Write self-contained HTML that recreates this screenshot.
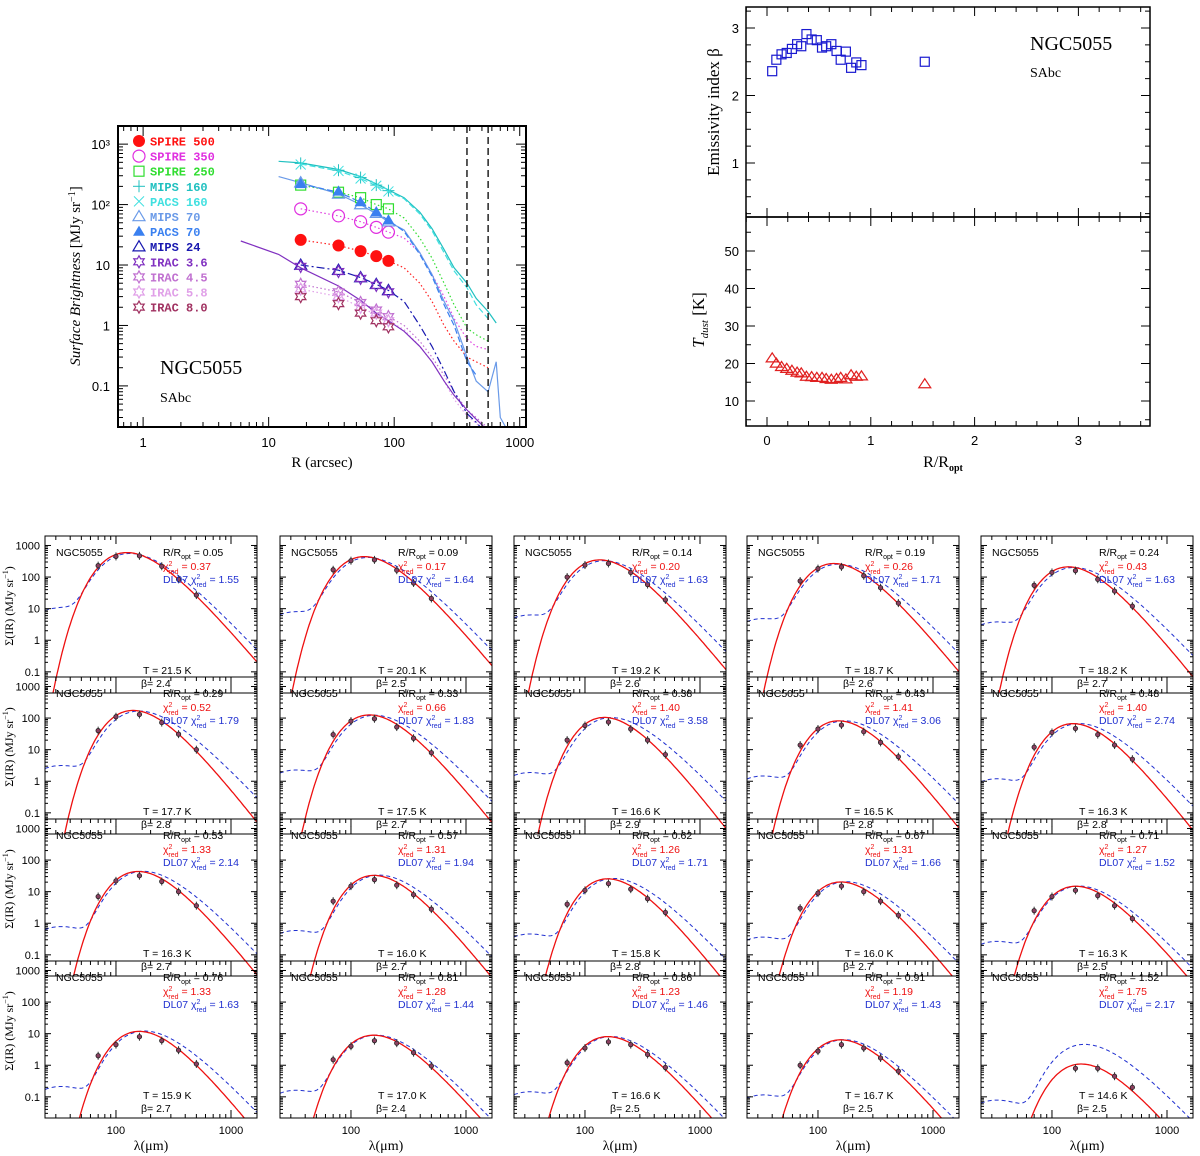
<!DOCTYPE html>
<html><head><meta charset="utf-8"><style>
html,body{margin:0;padding:0;background:#fff;}
svg{display:block;font-family:"Liberation Sans",sans-serif;}
</style></head><body>
<svg id="fig" width="1200" height="1156" viewBox="0 0 1200 1156" xmlns="http://www.w3.org/2000/svg"></svg>
<script>
// ===== Profile panel data =====
const profR = [18, 36, 54, 72, 90];
const spire500 = [26, 21, 17, 14, 11.7];
const spire350 = [85, 65, 52, 42, 35];
const spire250 = [210, 160, 130, 100, 85];
const mips160 = [480, 370, 280, 210, 170];
const pacs160 = [460, 360, 270, 205, 165];
const mips70 = [230, 150, 100, 72, 52];
const pacs70 = [220, 165, 110, 75, 55];
const mips24 = [10, 8.2, 6.2, 4.8, 3.8];
const irac36 = [9.5, 7.8, 6.0, 4.6, 3.6];
const irac45 = [4.8, 3.6, 2.4, 1.8, 1.4];
const irac58 = [4.0, 3.0, 2.0, 1.6, 1.2];
const irac80 = [3.0, 2.3, 1.6, 1.2, 0.95];
const lineR = [6, 12, 18, 36, 54, 72, 90, 120, 160, 200, 250, 300, 380, 450, 560, 650, 700, 780];
const lineMips160 = [null, 520, 490, 380, 290, 220, 175, 130, 75, 40, 18, 9, 5, 2.8, 1.7, 1.1, null, 0.7];
const linePacs160 = [null, null, 470, 360, 270, 205, 165, 125, 70, 37, 16, 8, 4.2, 2.2, 1.3, null, null, null];
const line250 = [null, null, 210, 160, 130, 100, 85, 60, 28, 13, 5, 2.2, 0.9, 0.7, 0.55, null, null, null];
const line350 = [null, null, 85, 65, 52, 42, 35, 28, 16, 7, 3, 1.3, 0.6, 0.45, 0.4, null, null, null];
const line500 = [null, null, 26, 21, 17, 14, 11.7, 9, 5, 2.5, 1, 0.55, 0.3, 0.25, 0.2, null, null, null];
const lineMips70 = [null, 290, 230, 150, 100, 70, 52, 38, 16, 7, 2.5, 1.2, 0.3, 0.12, 0.08, 0.25, 0.03, 0.02];
const linePacs70 = [null, null, 220, 160, 110, 75, 55, 36, 15, 6.5, 2.2, 1.0, 0.25, 0.15, null, null, null, null];
const lineMips24 = [null, null, 10, 8.2, 6.2, 4.8, 3.8, 2.5, 1, 0.45, 0.18, 0.08, 0.035, 0.025, 0.015, null, null, null];
const line36 = [25, 15, 9, 4.5, 2.6, 1.6, 1.2, 0.8, 0.45, 0.25, 0.12, 0.07, 0.04, 0.028, 0.018, null, null, null];
const line45 = [null, null, 4.8, 3.6, 2.4, 1.8, 1.4, 1.0, 0.55, 0.3, 0.15, 0.08, 0.04, 0.03, 0.02, null, null, null];
const line58 = [null, null, 4.0, 3.0, 2.0, 1.5, 1.2, 0.85, 0.45, 0.25, 0.12, 0.06, 0.032, 0.024, 0.017, null, null, null];
const vlines = [380, 560];

// ===== Radial beta / T panel data =====
const rOpt = [0.05,0.09,0.14,0.19,0.24,0.29,0.33,0.38,0.43,0.48,0.53,0.57,0.62,0.67,0.71,0.76,0.81,0.86,0.91,1.52];
const betaVals = [2.36,2.53,2.61,2.63,2.69,2.76,2.73,2.91,2.83,2.82,2.71,2.73,2.76,2.66,2.53,2.65,2.41,2.49,2.45,2.50];
const tVals = [21.5,20.1,19.2,18.7,18.2,17.7,17.5,16.6,16.5,16.3,16.3,16.0,15.8,16.0,16.3,15.9,17.0,16.6,16.7,14.6];
const betaLabels = ["2.4","2.5","2.6","2.6","2.7","2.8","2.7","2.9","2.8","2.8","2.7","2.7","2.8","2.7","2.5","2.7","2.4","2.5","2.5","2.5"];
const chiMbb = ["0.37","0.17","0.20","0.26","0.43","0.52","0.66","1.40","1.41","1.40","1.33","1.31","1.26","1.31","1.27","1.33","1.28","1.23","1.19","1.75"];
const chiDl = ["1.55","1.64","1.63","1.71","1.63","1.79","1.83","3.58","3.06","2.74","2.14","1.94","1.71","1.66","1.52","1.63","1.44","1.46","1.43","2.17"];

// ===== SED data =====
const sedWave = [70, 100, 160, 250, 350, 500];
const sedFlux = [
 [230,450,470,220,85,27],[170,330,350,165,65,21],[100,240,270,140,58,19],[75,185,210,110,46,15],[55,140,160,85,36,12],
 [40,110,130,72,31,10],[30,80,95,52,23,8],[20,58,75,45,20,7],[14,45,60,37,17,6],[12,35,47,30,14,5],
 [7,22,32,21,10,3.6],[5,15,24,16,8,2.8],[4,11,18,12,6,2.2],[3,9,15,10,5,1.8],[2.5,7,11,7.5,3.6,1.4],
 [2,4.5,8,6,3,1.1],[1.5,4,6,5,2.5,0.95],[1.2,3.5,5.5,4.5,2.2,0.85],[1.0,2.8,4.5,3.5,1.7,0.65],[null,null,0.8,0.8,0.45,0.2]
];
const dlScale = [1,1,1,1,1,1,1,1,1,1,1,1,1,1,1,1,1,1,1,4];

const svg = document.getElementById('fig');
const NS = 'http://www.w3.org/2000/svg';
function el(tag, attrs, parent) {
  const e = document.createElementNS(NS, tag);
  for (const k in attrs) e.setAttribute(k, attrs[k]);
  (parent || svg).appendChild(e);
  return e;
}
function ln(x1,y1,x2,y2,st,p){ return el('line',{x1,y1,x2,y2,stroke:st||'#000','stroke-width':1},p); }
function tx(x,y,s,attrs,p){ const t=el('text',Object.assign({x,y},attrs||{}),p); t.textContent=s; return t; }

// log-axis ticks helper; map takes log10 value
function logTicks(g, lo, hi, map, a0, a1, len, horiz) {
  for (let d = Math.floor(lo); d <= Math.ceil(hi); d++) {
    for (let m = 1; m <= 9; m++) {
      const v = d + Math.log10(m);
      if (v < lo || v > hi) continue;
      const p = map(v); const L = m === 1 ? len*2 : len;
      if (horiz) { ln(p,a0,p,a0-L,'#000',g); ln(p,a1,p,a1+L,'#000',g); }
      else { ln(a0,p,a0+L,p,'#000',g); ln(a1,p,a1-L,p,'#000',g); }
    }
  }
}

// ========== Profile panel ==========
(function(){
  const g = el('g',{});
  
  
  const X0=118,X1=526,Y0=126,Y1=427, lx0=-0.2, lx1=3.05, ly0=-1.68, ly1=3.3;
  const xl = v => X0 + (v-lx0)/(lx1-lx0)*(X1-X0);
  const yl = v => Y1 - (v-ly0)/(ly1-ly0)*(Y1-Y0);
  const xs = v => xl(Math.log10(v));
  const ys = v => yl(Math.log10(v));
  const cp = el('clipPath',{id:'cprof'},g); el('rect',{x:X0,y:Y0,width:X1-X0,height:Y1-Y0},cp);
  const plot = el('g',{'clip-path':'url(#cprof)'},g);
  function series(vals,color,dash,name){
    let d='';let pen=false;
    lineR.forEach((r,i)=>{ const v=vals[i]; if(v==null){pen=false;return;} d+=(pen?'L':'M')+xs(r).toFixed(1)+','+ys(v).toFixed(1); pen=true; });
    const p=el('path',{d,fill:'none',stroke:color,'stroke-width':1.2,'stroke-dasharray':dash||'none'},plot);
     
  }
  series(line500,'#ff2020','1.5,2.5','spire500-profile');
  series(line350,'#e040e0','1.5,2.5','spire350-profile');
  series(line250,'#30dd30','1.5,2.5','spire250-profile');
  series(line45,'#c070d0','1.5,2.5','irac45-profile');
  series(line58,'#e0a0e8','1.5,2.5','irac58-profile');
  series(lineMips70,'#6a9ae8','','mips70-profile');
  series(linePacs70,'#3a80f0','6,3','pacs70-profile');
  series(lineMips160,'#20c0c0','','mips160-profile');
  series(linePacs160,'#40e0e0','6,3','pacs160-profile');
  series(lineMips24,'#1818b0','8,3,2,3','mips24-profile');
  series(line36,'#8030c0','','irac36-profile');
  vlines.forEach(r=>{ const v=el('line',{x1:xs(r),x2:xs(r),y1:Y0,y2:Y1,stroke:'#000','stroke-width':1.3,'stroke-dasharray':'7,4'},g);
      });
  function star(cx,cy,r,col,p){ let d=''; for(let i=0;i<12;i++){const a=-Math.PI/2+i*Math.PI/6; const rr=i%2?r*0.55:r; d+=(i?'L':'M')+(cx+rr*Math.cos(a)).toFixed(1)+','+(cy+rr*Math.sin(a)).toFixed(1);} return el('path',{d:d+'Z',fill:'none',stroke:col,'stroke-width':1.2},p); }
  function marker(type,cx,cy,col,p){
    const s=6;
    if(type==='fcirc') return el('circle',{cx,cy,r:s,fill:col},p);
    if(type==='ocirc') return el('circle',{cx,cy,r:s,fill:'none',stroke:col,'stroke-width':1.2},p);
    if(type==='sq') return el('rect',{x:cx-s+1,y:cy-s+1,width:2*s-2,height:2*s-2,fill:'none',stroke:col,'stroke-width':1.2},p);
    if(type==='plus'){ const gg=el('g',{},p); ln(cx-s,cy,cx+s,cy,col,gg); ln(cx,cy-s,cx,cy+s,col,gg); return gg; }
    if(type==='x'){ const gg=el('g',{},p); ln(cx-5,cy-5,cx+5,cy+5,col,gg); ln(cx-5,cy+5,cx+5,cy-5,col,gg); return gg; }
    if(type==='otri') return el('path',{d:`M${cx},${cy-s}L${cx+s},${cy+s*0.7}L${cx-s},${cy+s*0.7}Z`,fill:'none',stroke:col,'stroke-width':1.2},p);
    if(type==='ftri') return el('path',{d:`M${cx},${cy-s}L${cx+s},${cy+s*0.7}L${cx-s},${cy+s*0.7}Z`,fill:col},p);
    if(type==='star') return star(cx,cy,s,col,p);
  }
  const sets = [
    ['SPIRE 500',spire500,'fcirc','#ff1010','spire500'],
    ['SPIRE 350',spire350,'ocirc','#e030e0','spire350'],
    ['SPIRE 250',spire250,'sq','#30dd30','spire250'],
    ['MIPS 160',mips160,'plus','#20c0c0','mips160'],
    ['PACS 160',pacs160,'x','#40e0e0','pacs160'],
    ['MIPS 70',mips70,'otri','#6a9ae8','mips70'],
    ['PACS 70',pacs70,'ftri','#3a80f0','pacs70'],
    ['MIPS 24',mips24,'otri','#1818b0','mips24'],
    ['IRAC 3.6',irac36,'star','#8030c0','irac36'],
    ['IRAC 4.5',irac45,'star','#c070d0','irac45'],
    ['IRAC 5.8',irac58,'star','#e0a0e8','irac58'],
    ['IRAC 8.0',irac80,'star','#a03060','irac80']
  ];
  sets.forEach((s,i)=>{
    const sg=el('g',{},plot);
     
    profR.forEach((r,j)=>marker(s[2],xs(r),ys(s[1][j]),s[3],sg));
    const ly=141+i*15.1;
    const lg=el('g',{},g);
     
    marker(s[2],139,ly,s[3],lg);
    tx(150,ly+4.5,s[0],{fill:s[3],'font-size':12,'font-weight':'bold','font-family':'"Liberation Mono",monospace'},lg);
  });
  el('rect',{x:X0,y:Y0,width:X1-X0,height:Y1-Y0,fill:'none',stroke:'#000','stroke-width':2},g);
  logTicks(g,lx0,lx1,xl,Y1,Y0,5,true);
  logTicks(g,ly0,ly1,yl,X0,X1,5,false);
  [[1,'1'],[10,'10'],[100,'100'],[1000,'1000']].forEach(t=>tx(xs(t[0]),447,t[1],{'text-anchor':'middle','font-size':13}, g));
  [[1000,'10³'],[100,'10²'],[10,'10'],[1,'1'],[0.1,'0.1']].forEach(t=>tx(110,ys(t[0])+5,t[1],{'text-anchor':'end','font-size':13},g));
  tx(322,467,'R (arcsec)',{'text-anchor':'middle','font-size':15,'font-family':'"Liberation Serif",serif'},g);
  const yt=tx(0,0,'',{transform:'translate(80,276) rotate(-90)','text-anchor':'middle','font-size':15,'font-family':'"Liberation Serif",serif'},g);
  yt.innerHTML='<tspan font-style="italic">Surface Brightness</tspan> [MJy sr<tspan font-size="10" dy="-5">−1</tspan><tspan dy="5">]</tspan>';
  tx(160,374,'NGC5055',{'font-size':20,'font-family':'"Liberation Serif",serif'},g);
  tx(160,402,'SAbc',{'font-size':14,'font-family':'"Liberation Serif",serif'},g);
})();

// ========== Beta / T panel ==========
(function(){
  const g = el('g',{});
  
  
  const X0=746,X1=1150, xs=v=>767+v*103.8;
  const Y0=7,YM=217,Y1=426;
  const yb=v=>28+(3-v)*67.5;
  const yt=v=>251+(50-v)*3.75;
  el('rect',{x:X0,y:Y0,width:X1-X0,height:Y1-Y0,fill:'none',stroke:'#000','stroke-width':1.5},g);
  ln(X0,YM,X1,YM,'#000',g).setAttribute('stroke-width',1.8);
  for(let k=-1;k<=18;k++){ const v=k*0.2; const x=xs(v); const big=k%5===0; const L=big?9:5;
    ln(x,Y0,x,Y0+L,'#000',g); ln(x,YM-L,x,YM+L,'#000',g); ln(x,Y1,x,Y1-L,'#000',g); }
  for(let k=1;k<=13;k++){ const v=k*0.25; const y=yb(v); if(y<Y0) continue; const L=(k%4===0)?9:5; ln(X0,y,X0+L,y,'#000',g); ln(X1,y,X1-L,y,'#000',g); }
  for(let v=5;v<=58;v+=5){ const y=yt(v); const L=(v%10===0)?9:5; ln(X0,y,X0+L,y,'#000',g); ln(X1,y,X1-L,y,'#000',g); }
  [1,2,3].forEach(v=>tx(739,yb(v)+5,String(v),{'text-anchor':'end','font-size':13},g));
  [10,20,30,40,50].forEach(v=>tx(739,yt(v)+5,String(v),{'text-anchor':'end','font-size':13},g));
  [0,1,2,3].forEach(v=>tx(xs(v),445,String(v),{'text-anchor':'middle','font-size':13},g));
  tx(0,0,'Emissivity index β',{transform:'translate(719,112) rotate(-90)','text-anchor':'middle','font-size':17,'font-family':'"Liberation Serif",serif'},g);
  const tl=tx(0,0,'',{transform:'translate(704,320) rotate(-90)','text-anchor':'middle','font-size':17,'font-family':'"Liberation Serif",serif'},g);
  tl.innerHTML='<tspan font-style="italic">T</tspan><tspan font-size="11" font-style="italic" dy="4">dust</tspan><tspan dy="-4">  [K]</tspan>';
  const xl=tx(943,467,'',{'text-anchor':'middle','font-size':16,'font-family':'"Liberation Serif",serif'},g);
  xl.innerHTML='R/R<tspan font-size="10" font-weight="bold" dy="4">opt</tspan>';
  tx(1030,50,'NGC5055',{'font-size':20,'font-family':'"Liberation Serif",serif'},g);
  tx(1030,77,'SAbc',{'font-size':14,'font-family':'"Liberation Serif",serif'},g);
  rOpt.forEach((r,i)=>{
    const s=el('rect',{x:xs(r)-4.5,y:yb(betaVals[i])-4.5,width:9,height:9,fill:'none',stroke:'#1a1ad0','stroke-width':1.2},g);
     
    const cx=xs(r), cy=yt(tVals[i]);
    const t=el('path',{d:`M${cx},${cy-5}L${cx+6},${cy+4}L${cx-6},${cy+4}Z`,fill:'none',stroke:'#e02020','stroke-width':1.2},g);
     
  });
})();

// ========== SED grid ==========
const colX = [45, 280, 514, 747, 981];
const rowY = [536, 677, 819, 961];
const PW=212, PH=157, LX0=1.383, LX1=3.226, LY0=-1.67, LY1=3.3;
function mbb(l,T,b){ return Math.pow(1/l,3+b)/(Math.exp(14388/(l*T))-1); }
for (let i=0;i<20;i++){
  const r=Math.floor(i/5), c=i%5, X0=colX[c], Y0=rowY[r];
  const g=el('g',{});
  
  
  const xsl=v=>X0+(v-LX0)/(LX1-LX0)*PW, ysl=v=>Y0+PH-(v-LY0)/(LY1-LY0)*PH;
  const xs=l=>xsl(Math.log10(l));
  const ys=v=>ysl(Math.log10(v));
  const cid='csed'+i; const cp=el('clipPath',{id:cid},g); el('rect',{x:X0,y:Y0,width:PW,height:PH},cp);
  const plot=el('g',{'clip-path':'url(#'+cid+')'},g);
  const T=tVals[i], B=parseFloat(betaLabels[i]);
  let s=0,n=0; sedWave.forEach((w,j)=>{ const f=sedFlux[i][j]; if(f!=null){ s+=Math.log10(f/mbb(w,T,B)); n++; } });
  const N=Math.pow(10,s/n);
  const ref=N*mbb(160,T,B)*dlScale[i];
  const Nd=ref/mbb(160,T+0.5,2.0);
  let peak=0; for(let l=60;l<400;l+=5) peak=Math.max(peak,N*mbb(l,T,B)*dlScale[i]);
  const wPeak=mbb(14388/(4*110),110,1);
  let dR='',dB='';
  for(let k=0;k<=160;k++){
    const l=Math.pow(10,LX0+(LX1-LX0)*k/160);
    const vr=N*mbb(l,T,B); const vb=Nd*mbb(l,T+0.5,2.0)+0.018*peak*mbb(l,110,1)/wPeak;
    dR+=(k?'L':'M')+xs(l).toFixed(1)+','+Math.min(ys(Math.max(vr,1e-6)),Y0+PH+50).toFixed(1);
    dB+=(k?'L':'M')+xs(l).toFixed(1)+','+ys(vb).toFixed(1);
  }
  const pb=el('path',{d:dB,fill:'none',stroke:'#2030d0','stroke-width':1,'stroke-dasharray':'4,3'},plot);
   
  const pr=el('path',{d:dR,fill:'none',stroke:'#ee1010','stroke-width':1.3},plot);
   
  sedWave.forEach((w,j)=>{ const f=sedFlux[i][j]; if(f==null) return;
    const cx=xs(w), cy=ys(f);
    ln(cx,cy-4,cx,cy+4,'#333',plot);
    const m=el('circle',{cx,cy,r:2.2,fill:'#8a4060',stroke:'#222','stroke-width':0.8},plot);
     
  });
  el('rect',{x:X0,y:Y0,width:PW,height:PH,fill:'none',stroke:'#000','stroke-width':1},g);
  logTicks(g,LX0,LX1,xsl,Y0+PH,Y0,4,true);
  logTicks(g,LY0,LY1,ysl,X0,X0+PW,3,false);
  const fs={'font-size':10.5,'font-family':'"Liberation Sans",sans-serif'};
  tx(X0+11,Y0+20,'NGC5055',fs,g);
  const rt=tx(X0+118,Y0+20,'',fs,g); rt.innerHTML='R/R<tspan font-size="7" dy="3">opt</tspan><tspan dy="-3"> = '+rOpt[i].toFixed(2)+'</tspan>';
  const c1=tx(X0+118,Y0+34,'',Object.assign({fill:'#ee1010'},fs),g); c1.innerHTML='χ<tspan font-size="7" dy="-4">2</tspan><tspan font-size="7" dx="-4" dy="8">red</tspan><tspan dy="-4"> = '+chiMbb[i]+'</tspan>';
  const c2=tx(X0+118,Y0+47,'',Object.assign({fill:'#2030d0'},fs),g); c2.innerHTML='DL07 χ<tspan font-size="7" dy="-4">2</tspan><tspan font-size="7" dx="-4" dy="8">red</tspan><tspan dy="-4"> = '+chiDl[i]+'</tspan>';
  tx(X0+98,Y0+138,'T = '+T.toFixed(1)+' K',fs,g);
  tx(X0+96,Y0+151,'β= '+betaLabels[i],fs,g);
  if(c===0){
    [[1000,'1000'],[100,'100'],[10,'10'],[1,'1'],[0.1,'0.1']].forEach(t=>tx(X0-5,ys(t[0])+4,t[1],{'text-anchor':'end','font-size':11},g));
    const yl=tx(0,0,'',{transform:`translate(13,${Y0+70}) rotate(-90)`,'text-anchor':'middle','font-size':12,'font-family':'"Liberation Serif",serif'},g);
    yl.innerHTML='Σ(IR) (MJy sr<tspan font-size="8" dy="-5">−1</tspan><tspan dy="5">)</tspan>';
  }
  if(r===3){
    tx(xs(100),Y0+PH+16,'100',{'text-anchor':'middle','font-size':11},g);
    tx(xs(1000),Y0+PH+16,'1000',{'text-anchor':'middle','font-size':11},g);
    tx(X0+PW/2,Y0+PH+32,'λ(μm)',{'text-anchor':'middle','font-size':14,'font-family':'"Liberation Serif",serif'},g);
  }
}
</script>
</body></html>
